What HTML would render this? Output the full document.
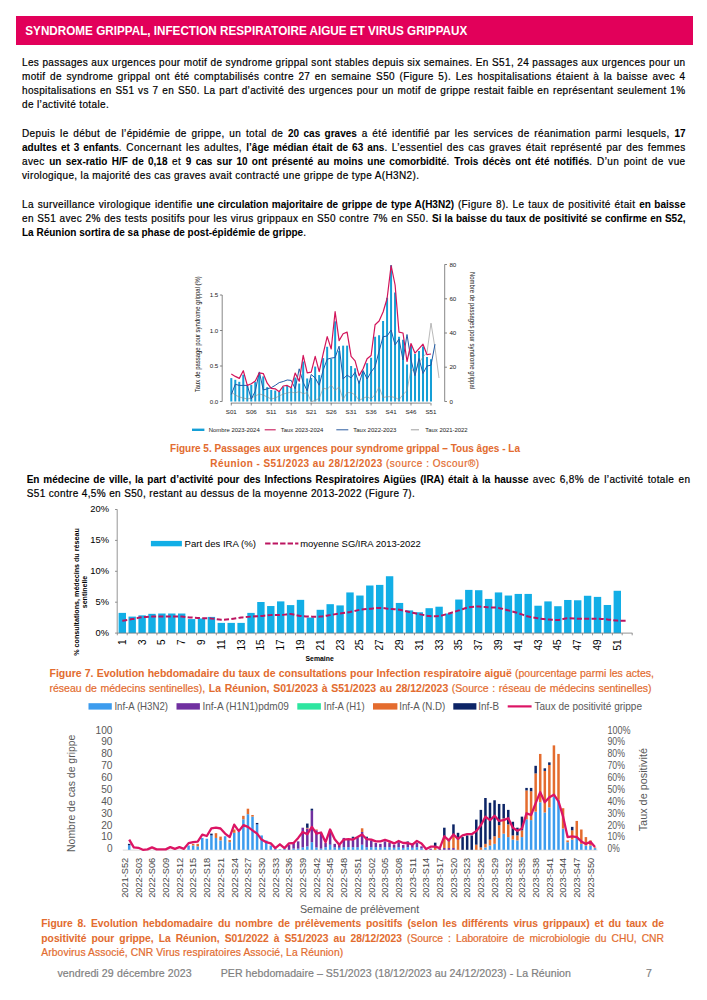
<!DOCTYPE html><html><head><meta charset="utf-8"><style>html,body{margin:0;padding:0;background:#fff;}body{width:707px;height:1000px;position:relative;overflow:hidden;font-family:"Liberation Sans",sans-serif;color:#000;} b{font-weight:bold;letter-spacing:0} div{-webkit-text-stroke:0.2px currentColor} div b{-webkit-text-stroke:0.05px currentColor}</style></head><body>
<div style="position:absolute;left:16.3px;top:16.3px;width:676.3px;height:28.8px;background:#E2005A"></div>
<svg style="position:absolute;left:0;top:0" width="707" height="60"><text x="25.3" y="35.1" font-family='"Liberation Sans", sans-serif' font-weight="bold" font-size="12.3" fill="#fff" textLength="442" lengthAdjust="spacingAndGlyphs">SYNDROME GRIPPAL, INFECTION RESPIRATOIRE AIGUE ET VIRUS GRIPPAUX</text></svg>
<div style="position:absolute;left:22px;top:57.63px;width:663.5px;font-size:10px;line-height:10px;height:10px;letter-spacing:0.36px;text-align:justify;text-align-last:justify;white-space:nowrap;color:#000;font-weight:normal;">Les passages aux urgences pour motif de syndrome grippal sont stables depuis six semaines. En S51, 24 passages aux urgences pour un</div>
<div style="position:absolute;left:22px;top:71.63px;width:663.5px;font-size:10px;line-height:10px;height:10px;letter-spacing:0.36px;text-align:justify;text-align-last:justify;white-space:nowrap;color:#000;font-weight:normal;">motif de syndrome grippal ont été comptabilisés contre 27 en semaine S50 (Figure 5). Les hospitalisations étaient à la baisse avec 4</div>
<div style="position:absolute;left:22px;top:85.63px;width:663.5px;font-size:10px;line-height:10px;height:10px;letter-spacing:0.36px;text-align:justify;text-align-last:justify;white-space:nowrap;color:#000;font-weight:normal;">hospitalisations en S51 vs 7 en S50. La part d’activité des urgences pour un motif de grippe restait faible en représentant seulement 1%</div>
<div style="position:absolute;left:22px;top:99.63px;width:663.5px;font-size:10px;line-height:10px;height:10px;letter-spacing:0.36px;text-align:left;text-align-last:left;white-space:nowrap;color:#000;font-weight:normal;">de l’activité totale.</div>
<div style="position:absolute;left:22px;top:128.63px;width:663.5px;font-size:10px;line-height:10px;height:10px;letter-spacing:0.36px;text-align:justify;text-align-last:justify;white-space:nowrap;color:#000;font-weight:normal;">Depuis le début de l’épidémie de grippe, un total de <b>20 cas graves</b> a été identifié par les services de réanimation parmi lesquels, <b>17</b></div>
<div style="position:absolute;left:22px;top:142.63px;width:663.5px;font-size:10px;line-height:10px;height:10px;letter-spacing:0.36px;text-align:justify;text-align-last:justify;white-space:nowrap;color:#000;font-weight:normal;"><b>adultes et 3 enfants</b>. Concernant les adultes, <b>l’âge médian était de 63 ans</b>. L’essentiel des cas graves était représenté par des femmes</div>
<div style="position:absolute;left:22px;top:156.63px;width:663.5px;font-size:10px;line-height:10px;height:10px;letter-spacing:0.36px;text-align:justify;text-align-last:justify;white-space:nowrap;color:#000;font-weight:normal;">avec <b>un sex-ratio H/F de 0,18</b> et <b>9 cas sur 10 ont présenté au moins une comorbidité</b>. <b>Trois décès ont été notifiés</b>. D’un point de vue</div>
<div style="position:absolute;left:22px;top:170.63px;width:663.5px;font-size:10px;line-height:10px;height:10px;letter-spacing:0.36px;text-align:left;text-align-last:left;white-space:nowrap;color:#000;font-weight:normal;">virologique, la majorité des cas graves avait contracté une grippe de type A(H3N2).</div>
<div style="position:absolute;left:22px;top:200.13px;width:663.5px;font-size:10px;line-height:10px;height:10px;letter-spacing:0.36px;text-align:justify;text-align-last:justify;white-space:nowrap;color:#000;font-weight:normal;">La surveillance virologique identifie <b>une circulation majoritaire de grippe de type A(H3N2)</b> (Figure 8). Le taux de positivité était <b>en baisse</b></div>
<div style="position:absolute;left:22px;top:214.13px;width:663.5px;font-size:10px;line-height:10px;height:10px;letter-spacing:0.36px;text-align:justify;text-align-last:justify;white-space:nowrap;color:#000;font-weight:normal;">en S51 avec 2% des tests positifs pour les virus grippaux en S50 contre 7% en S50. <b>Si la baisse du taux de positivité se confirme en S52,</b></div>
<div style="position:absolute;left:22px;top:228.13px;width:663.5px;font-size:10px;line-height:10px;height:10px;letter-spacing:0.36px;text-align:left;text-align-last:left;white-space:nowrap;color:#000;font-weight:normal;"><b>La Réunion sortira de sa phase de post-épidémie de grippe</b>.</div>
<div style="position:absolute;left:120px;top:443.84px;width:450px;font-size:10px;line-height:10px;height:10px;letter-spacing:0px;text-align:center;text-align-last:center;white-space:nowrap;color:#E36C2F;font-weight:normal;margin-left:0"><b>Figure 5. Passages aux urgences pour syndrome grippal – Tous âges - La</b></div>
<div style="position:absolute;left:120px;top:458.74px;width:450px;font-size:10px;line-height:10px;height:10px;letter-spacing:0.5px;text-align:center;text-align-last:center;white-space:nowrap;color:#E36C2F;font-weight:normal;"><b style="letter-spacing:0.42px">Réunion - S51/2023 au 28/12/2023</b> (source : Oscour®)</div>
<div style="position:absolute;left:26.7px;top:474.54px;width:663.7px;font-size:10px;line-height:10px;height:10px;letter-spacing:0.36px;text-align:justify;text-align-last:justify;white-space:nowrap;color:#000;font-weight:normal;"><b>En médecine de ville, la part d’activité pour des Infections Respiratoires Aigües (IRA) était à la hausse</b> avec 6,8% de l’activité totale en</div>
<div style="position:absolute;left:26.7px;top:489.44px;width:663.5px;font-size:10px;line-height:10px;height:10px;letter-spacing:0.36px;text-align:left;text-align-last:left;white-space:nowrap;color:#000;font-weight:normal;">S51 contre 4,5% en S50, restant au dessus de la moyenne 2013-2022 (Figure 7).</div>
<div style="position:absolute;left:49.5px;top:668.11px;width:604.5px;font-size:10.5px;line-height:10.5px;height:10.5px;letter-spacing:0px;text-align:justify;text-align-last:justify;white-space:nowrap;color:#E36C2F;font-weight:normal;"><b>Figure 7. Evolution hebdomadaire du taux de consultations pour Infection respiratoire aiguë</b> (pourcentage parmi les actes,</div>
<div style="position:absolute;left:49.5px;top:682.81px;width:602px;font-size:10.5px;line-height:10.5px;height:10.5px;letter-spacing:0px;text-align:justify;text-align-last:justify;white-space:nowrap;color:#E36C2F;font-weight:normal;">réseau de médecins sentinelles), <b>La Réunion, S01/2023 à S51/2023 au 28/12/2023</b> (Source : réseau de médecins sentinelles)</div>
<div style="position:absolute;left:41.3px;top:918.68px;width:622.7px;font-size:10.3px;line-height:10.3px;height:10.3px;letter-spacing:0px;text-align:justify;text-align-last:justify;white-space:nowrap;color:#E36C2F;font-weight:normal;"><b>Figure 8. Evolution hebdomadaire du nombre de prélèvements positifs (selon les différents virus grippaux) et du taux de</b></div>
<div style="position:absolute;left:41.3px;top:933.78px;width:622.7px;font-size:10.3px;line-height:10.3px;height:10.3px;letter-spacing:0px;text-align:justify;text-align-last:justify;white-space:nowrap;color:#E36C2F;font-weight:normal;"><b>positivité pour grippe, La Réunion, S01/2022 à S51/2023 au 28/12/2023</b> (Source : Laboratoire de microbiologie du CHU, CNR</div>
<div style="position:absolute;left:41.3px;top:947.78px;width:400px;font-size:10.3px;line-height:10.3px;height:10.3px;letter-spacing:0.1px;text-align:left;text-align-last:left;white-space:nowrap;color:#E36C2F;font-weight:normal;">Arbovirus Associé, CNR Virus respiratoires Associé, La Réunion)</div>
<div style="position:absolute;left:57.4px;top:968.33px;width:300px;font-size:10.6px;line-height:10.6px;height:10.6px;letter-spacing:0.1px;text-align:left;text-align-last:left;white-space:nowrap;color:#7F7F7F;font-weight:normal;">vendredi 29 décembre 2023</div>
<div style="position:absolute;left:220.7px;top:968.33px;width:400px;font-size:10.6px;line-height:10.6px;height:10.6px;letter-spacing:0.05px;text-align:left;text-align-last:left;white-space:nowrap;color:#7F7F7F;font-weight:normal;">PER hebdomadaire – S51/2023 (18/12/2023 au 24/12/2023) - La Réunion</div>
<div style="position:absolute;left:646px;top:968.33px;width:20px;font-size:10.6px;line-height:10.6px;height:10.6px;letter-spacing:0px;text-align:left;text-align-last:left;white-space:nowrap;color:#7F7F7F;font-weight:normal;">7</div>
<svg style="position:absolute;left:0;top:0" width="707" height="1000" viewBox="0 0 707 1000">
<rect x="230.30" y="378.09" width="2.0" height="23.41" fill="#159FD6"/>
<rect x="234.29" y="379.79" width="2.0" height="21.71" fill="#159FD6"/>
<rect x="238.29" y="381.82" width="2.0" height="19.68" fill="#159FD6"/>
<rect x="242.28" y="374.70" width="2.0" height="26.80" fill="#159FD6"/>
<rect x="246.28" y="385.45" width="2.0" height="16.05" fill="#159FD6"/>
<rect x="250.27" y="384.88" width="2.0" height="16.62" fill="#159FD6"/>
<rect x="254.26" y="382.05" width="2.0" height="19.45" fill="#159FD6"/>
<rect x="258.26" y="373.00" width="2.0" height="28.50" fill="#159FD6"/>
<rect x="262.25" y="376.39" width="2.0" height="25.11" fill="#159FD6"/>
<rect x="266.25" y="387.14" width="2.0" height="14.36" fill="#159FD6"/>
<rect x="270.24" y="389.97" width="2.0" height="11.53" fill="#159FD6"/>
<rect x="274.23" y="390.54" width="2.0" height="10.96" fill="#159FD6"/>
<rect x="278.23" y="391.67" width="2.0" height="9.83" fill="#159FD6"/>
<rect x="282.22" y="386.58" width="2.0" height="14.92" fill="#159FD6"/>
<rect x="286.22" y="386.01" width="2.0" height="15.49" fill="#159FD6"/>
<rect x="290.21" y="387.71" width="2.0" height="13.79" fill="#159FD6"/>
<rect x="294.20" y="377.52" width="2.0" height="23.98" fill="#159FD6"/>
<rect x="298.20" y="383.55" width="2.0" height="17.95" fill="#159FD6"/>
<rect x="302.19" y="361.49" width="2.0" height="40.01" fill="#159FD6"/>
<rect x="306.19" y="378.46" width="2.0" height="23.04" fill="#159FD6"/>
<rect x="310.18" y="377.89" width="2.0" height="23.61" fill="#159FD6"/>
<rect x="314.17" y="366.58" width="2.0" height="34.92" fill="#159FD6"/>
<rect x="318.17" y="375.06" width="2.0" height="26.44" fill="#159FD6"/>
<rect x="322.16" y="358.09" width="2.0" height="43.41" fill="#159FD6"/>
<rect x="326.16" y="346.78" width="2.0" height="54.72" fill="#159FD6"/>
<rect x="330.15" y="358.66" width="2.0" height="42.84" fill="#159FD6"/>
<rect x="334.14" y="321.32" width="2.0" height="80.18" fill="#159FD6"/>
<rect x="338.14" y="350.74" width="2.0" height="50.76" fill="#159FD6"/>
<rect x="342.13" y="345.64" width="2.0" height="55.86" fill="#159FD6"/>
<rect x="346.13" y="345.64" width="2.0" height="55.86" fill="#159FD6"/>
<rect x="350.12" y="366.01" width="2.0" height="35.49" fill="#159FD6"/>
<rect x="354.11" y="368.27" width="2.0" height="33.23" fill="#159FD6"/>
<rect x="358.11" y="380.72" width="2.0" height="20.78" fill="#159FD6"/>
<rect x="362.10" y="371.67" width="2.0" height="29.83" fill="#159FD6"/>
<rect x="366.10" y="363.18" width="2.0" height="38.32" fill="#159FD6"/>
<rect x="370.09" y="357.74" width="2.0" height="43.76" fill="#159FD6"/>
<rect x="374.08" y="336.75" width="2.0" height="64.75" fill="#159FD6"/>
<rect x="378.08" y="335.25" width="2.0" height="66.25" fill="#159FD6"/>
<rect x="382.07" y="321.00" width="2.0" height="80.50" fill="#159FD6"/>
<rect x="386.07" y="297.75" width="2.0" height="103.75" fill="#159FD6"/>
<rect x="390.06" y="265.20" width="2.0" height="136.30" fill="#159FD6"/>
<rect x="394.05" y="292.50" width="2.0" height="109.00" fill="#159FD6"/>
<rect x="398.05" y="336.75" width="2.0" height="64.75" fill="#159FD6"/>
<rect x="402.04" y="339.75" width="2.0" height="61.75" fill="#159FD6"/>
<rect x="406.04" y="364.49" width="2.0" height="37.01" fill="#159FD6"/>
<rect x="410.03" y="345.00" width="2.0" height="56.50" fill="#159FD6"/>
<rect x="414.02" y="354.00" width="2.0" height="47.50" fill="#159FD6"/>
<rect x="418.02" y="351.00" width="2.0" height="50.50" fill="#159FD6"/>
<rect x="422.01" y="346.50" width="2.0" height="55.00" fill="#159FD6"/>
<rect x="426.01" y="356.99" width="2.0" height="44.51" fill="#159FD6"/>
<rect x="430.00" y="359.24" width="2.0" height="42.26" fill="#159FD6"/>
<polyline points="231.3,392.0 235.3,395.0 239.3,397.0 243.3,398.0 247.3,399.0 251.3,398.0 255.3,396.0 259.3,394.0 263.3,395.0 267.2,397.0 271.2,399.0 275.2,398.0 279.2,396.0 283.2,394.0 287.2,393.0 291.2,392.0 295.2,393.0 299.2,391.5 303.2,393.7 307.2,392.6 311.2,401.7 315.2,400.5 319.2,398.3 323.2,388.1 327.2,389.2 331.2,385.2 335.1,390.3 339.1,386.9 343.1,399.4 347.1,392.6 351.1,392.6 355.1,394.9 359.1,400.5 363.1,398.3 367.1,396.6 371.1,399.0 375.1,394.5 379.1,387.0 383.1,397.5 387.1,396.7 391.1,396.7 395.1,397.5 399.0,399.7 403.0,394.5 407.0,390.7 411.0,369.0 415.0,372.0 419.0,363.0 423.0,357.0 427.0,352.5 431.0,323.2 435.0,348.0 439.0,378.0" fill="none" stroke="#8a8a8a" stroke-width="0.6" stroke-linejoin="round" />
<polyline points="231.3,394.5 235.3,384.3 239.3,385.4 243.3,385.4 247.3,385.4 251.3,399.0 255.3,391.1 259.3,371.9 263.3,390.0 267.2,388.8 271.2,387.7 275.2,385.4 279.2,382.6 283.2,381.5 287.2,380.0 291.2,380.4 295.2,388.8 299.2,368.8 303.2,382.4 307.2,390.9 311.2,374.5 315.2,377.9 319.2,385.2 323.2,370.0 327.2,359.2 331.2,358.1 335.1,357.5 339.1,346.2 343.1,379.0 347.1,375.1 351.1,377.9 355.1,372.2 359.1,383.6 363.1,370.5 367.1,379.0 371.1,372.0 375.1,366.7 379.1,351.0 383.1,336.7 387.1,336.0 391.1,330.0 395.1,345.0 399.0,339.0 403.0,360.0 407.0,334.5 411.0,360.0 415.0,375.7 419.0,358.5 423.0,373.5 427.0,366.0 431.0,365.2 435.0,344.2" fill="none" stroke="#1F5AA6" stroke-width="1.0" stroke-linejoin="round" />
<polyline points="231.3,374.1 235.3,376.4 239.3,378.4 243.3,370.7 247.3,385.4 251.3,383.7 255.3,380.9 259.3,372.8 263.3,373.6 267.2,383.2 271.2,388.3 275.2,388.8 279.2,391.7 283.2,386.0 287.2,385.4 291.2,387.7 295.2,373.0 299.2,381.3 303.2,355.3 307.2,372.8 311.2,372.2 315.2,356.4 319.2,371.7 323.2,353.6 327.2,336.6 331.2,349.0 335.1,311.7 339.1,340.6 343.1,333.8 347.1,332.1 351.1,356.4 355.1,360.9 359.1,375.6 363.1,368.8 367.1,358.7 371.1,355.5 375.1,324.7 379.1,321.0 383.1,312.0 387.1,298.5 391.1,265.5 395.1,285.0 399.0,332.2 403.0,333.0 407.0,361.5 411.0,343.5 415.0,353.2 419.0,348.7 423.0,344.2 427.0,354.7 431.0,354.0" fill="none" stroke="#D2145A" stroke-width="1.2" stroke-linejoin="round" />
<g stroke="#555" stroke-width="0.7" fill="none">
<line x1="222.2" y1="295" x2="222.2" y2="401.5"/>
<line x1="219.9" y1="401.5" x2="222.2" y2="401.5"/>
<line x1="219.9" y1="366.0" x2="222.2" y2="366.0"/>
<line x1="219.9" y1="330.5" x2="222.2" y2="330.5"/>
<line x1="219.9" y1="295.0" x2="222.2" y2="295.0"/>
<line x1="444.7" y1="264.5" x2="444.7" y2="401.5"/>
<line x1="444.7" y1="401.5" x2="447" y2="401.5"/>
<line x1="444.7" y1="367.2" x2="447" y2="367.2"/>
<line x1="444.7" y1="333.0" x2="447" y2="333.0"/>
<line x1="444.7" y1="298.8" x2="447" y2="298.8"/>
<line x1="444.7" y1="264.5" x2="447" y2="264.5"/>
<line x1="230.8" y1="403.1" x2="430.5" y2="403.1"/>
<line x1="231.3" y1="403.1" x2="231.3" y2="405.5"/>
<line x1="251.3" y1="403.1" x2="251.3" y2="405.5"/>
<line x1="271.2" y1="403.1" x2="271.2" y2="405.5"/>
<line x1="291.2" y1="403.1" x2="291.2" y2="405.5"/>
<line x1="311.2" y1="403.1" x2="311.2" y2="405.5"/>
<line x1="331.2" y1="403.1" x2="331.2" y2="405.5"/>
<line x1="351.1" y1="403.1" x2="351.1" y2="405.5"/>
<line x1="371.1" y1="403.1" x2="371.1" y2="405.5"/>
<line x1="391.1" y1="403.1" x2="391.1" y2="405.5"/>
<line x1="411.0" y1="403.1" x2="411.0" y2="405.5"/>
<line x1="431.0" y1="403.1" x2="431.0" y2="405.5"/>
</g>
<g font-family='"Liberation Sans", sans-serif' font-size="6.2" fill="#1a1a1a">
<text x="218.3" y="403.6" text-anchor="end">0.0</text>
<text x="218.3" y="368.1" text-anchor="end">0.5</text>
<text x="218.3" y="332.6" text-anchor="end">1.0</text>
<text x="218.3" y="297.1" text-anchor="end">1.5</text>
<text x="449.4" y="403.6">0</text>
<text x="449.4" y="369.4">20</text>
<text x="449.4" y="335.1">40</text>
<text x="449.4" y="300.9">60</text>
<text x="449.4" y="266.6">80</text>
<text x="231.3" y="413.7" text-anchor="middle">S01</text>
<text x="251.3" y="413.7" text-anchor="middle">S06</text>
<text x="271.2" y="413.7" text-anchor="middle">S11</text>
<text x="291.2" y="413.7" text-anchor="middle">S16</text>
<text x="311.2" y="413.7" text-anchor="middle">S21</text>
<text x="331.2" y="413.7" text-anchor="middle">S26</text>
<text x="351.1" y="413.7" text-anchor="middle">S31</text>
<text x="371.1" y="413.7" text-anchor="middle">S36</text>
<text x="391.1" y="413.7" text-anchor="middle">S41</text>
<text x="411.0" y="413.7" text-anchor="middle">S46</text>
<text x="431.0" y="413.7" text-anchor="middle">S51</text>
<text transform="translate(200.3,334.2) rotate(-90)" text-anchor="middle" textLength="116" lengthAdjust="spacingAndGlyphs" font-size="6.4">Taux de passage pour syndrome grippal (%)</text>
<text transform="translate(469.6,330.5) rotate(90)" text-anchor="middle" textLength="117" lengthAdjust="spacingAndGlyphs" font-size="6.4">Nombre de passages pour syndrome grippal</text>
<text x="208.7" y="431.8" textLength="51" lengthAdjust="spacingAndGlyphs">Nombre 2023-2024</text>
<text x="280.8" y="431.8" textLength="42.5" lengthAdjust="spacingAndGlyphs">Taux 2023-2024</text>
<text x="353.2" y="431.8" textLength="43.2" lengthAdjust="spacingAndGlyphs">Taux 2022-2023</text>
<text x="425.3" y="431.8" textLength="42.3" lengthAdjust="spacingAndGlyphs">Taux 2021-2022</text>
</g>
<line x1="192" y1="429.8" x2="204.4" y2="429.8" stroke="#159FD6" stroke-width="2.4"/>
<line x1="264.7" y1="429.8" x2="275.7" y2="429.8" stroke="#C8185A" stroke-width="1.1"/>
<line x1="336.3" y1="429.8" x2="348.3" y2="429.8" stroke="#2D5DA0" stroke-width="1.0"/>
<line x1="410.9" y1="429.8" x2="419" y2="429.8" stroke="#777" stroke-width="0.7"/>
<rect x="118.60" y="612.89" width="7.4" height="20.21" fill="#12AEE6"/>
<rect x="128.50" y="616.60" width="7.4" height="16.50" fill="#12AEE6"/>
<rect x="138.40" y="615.36" width="7.4" height="17.74" fill="#12AEE6"/>
<rect x="148.30" y="613.82" width="7.4" height="19.28" fill="#12AEE6"/>
<rect x="158.20" y="613.51" width="7.4" height="19.59" fill="#12AEE6"/>
<rect x="168.10" y="613.51" width="7.4" height="19.59" fill="#12AEE6"/>
<rect x="178.00" y="613.51" width="7.4" height="19.59" fill="#12AEE6"/>
<rect x="187.90" y="619.07" width="7.4" height="14.03" fill="#12AEE6"/>
<rect x="197.80" y="618.45" width="7.4" height="14.65" fill="#12AEE6"/>
<rect x="207.70" y="616.91" width="7.4" height="16.19" fill="#12AEE6"/>
<rect x="217.60" y="622.90" width="7.4" height="10.20" fill="#12AEE6"/>
<rect x="227.50" y="622.90" width="7.4" height="10.20" fill="#12AEE6"/>
<rect x="237.40" y="622.90" width="7.4" height="10.20" fill="#12AEE6"/>
<rect x="247.30" y="612.89" width="7.4" height="20.21" fill="#12AEE6"/>
<rect x="257.20" y="602.01" width="7.4" height="31.09" fill="#12AEE6"/>
<rect x="267.10" y="606.03" width="7.4" height="27.07" fill="#12AEE6"/>
<rect x="277.00" y="601.40" width="7.4" height="31.70" fill="#12AEE6"/>
<rect x="286.90" y="605.10" width="7.4" height="28.00" fill="#12AEE6"/>
<rect x="296.80" y="599.85" width="7.4" height="33.25" fill="#12AEE6"/>
<rect x="306.70" y="617.53" width="7.4" height="15.57" fill="#12AEE6"/>
<rect x="316.60" y="609.80" width="7.4" height="23.30" fill="#12AEE6"/>
<rect x="326.50" y="604.18" width="7.4" height="28.92" fill="#12AEE6"/>
<rect x="336.40" y="605.41" width="7.4" height="27.69" fill="#12AEE6"/>
<rect x="346.30" y="592.44" width="7.4" height="40.66" fill="#12AEE6"/>
<rect x="356.20" y="595.53" width="7.4" height="37.57" fill="#12AEE6"/>
<rect x="366.10" y="585.51" width="7.4" height="47.59" fill="#12AEE6"/>
<rect x="376.00" y="584.90" width="7.4" height="48.20" fill="#12AEE6"/>
<rect x="385.90" y="576.24" width="7.4" height="56.86" fill="#12AEE6"/>
<rect x="395.80" y="602.94" width="7.4" height="30.16" fill="#12AEE6"/>
<rect x="405.70" y="610.42" width="7.4" height="22.68" fill="#12AEE6"/>
<rect x="415.60" y="612.27" width="7.4" height="20.83" fill="#12AEE6"/>
<rect x="425.50" y="608.19" width="7.4" height="24.91" fill="#12AEE6"/>
<rect x="435.40" y="606.71" width="7.4" height="26.39" fill="#12AEE6"/>
<rect x="445.30" y="613.51" width="7.4" height="19.59" fill="#12AEE6"/>
<rect x="455.20" y="599.54" width="7.4" height="33.56" fill="#12AEE6"/>
<rect x="465.10" y="589.90" width="7.4" height="43.20" fill="#12AEE6"/>
<rect x="475.00" y="590.21" width="7.4" height="42.89" fill="#12AEE6"/>
<rect x="484.90" y="598.92" width="7.4" height="34.18" fill="#12AEE6"/>
<rect x="494.80" y="592.44" width="7.4" height="40.66" fill="#12AEE6"/>
<rect x="504.70" y="595.53" width="7.4" height="37.57" fill="#12AEE6"/>
<rect x="514.60" y="593.92" width="7.4" height="39.18" fill="#12AEE6"/>
<rect x="524.50" y="593.92" width="7.4" height="39.18" fill="#12AEE6"/>
<rect x="534.40" y="605.72" width="7.4" height="27.38" fill="#12AEE6"/>
<rect x="544.30" y="601.40" width="7.4" height="31.70" fill="#12AEE6"/>
<rect x="554.20" y="606.22" width="7.4" height="26.88" fill="#12AEE6"/>
<rect x="564.10" y="599.98" width="7.4" height="33.12" fill="#12AEE6"/>
<rect x="574.00" y="600.28" width="7.4" height="32.82" fill="#12AEE6"/>
<rect x="583.90" y="595.77" width="7.4" height="37.33" fill="#12AEE6"/>
<rect x="593.80" y="596.89" width="7.4" height="36.21" fill="#12AEE6"/>
<rect x="603.70" y="604.98" width="7.4" height="28.12" fill="#12AEE6"/>
<rect x="613.60" y="590.77" width="7.4" height="42.33" fill="#12AEE6"/>
<path d="M122.3,620.7 C123.9,620.5 128.9,619.7 132.2,619.1 C135.5,618.5 138.8,617.6 142.1,617.2 C145.4,616.8 148.7,616.7 152.0,616.6 C155.3,616.5 158.6,616.6 161.9,616.6 C165.2,616.6 168.5,616.6 171.8,616.6 C175.1,616.6 178.4,616.4 181.7,616.6 C185.0,616.8 188.3,617.3 191.6,617.5 C194.9,617.8 198.2,618.0 201.5,618.1 C204.8,618.3 208.1,618.2 211.4,618.5 C214.7,618.7 218.0,619.6 221.3,619.7 C224.6,619.8 227.9,619.4 231.2,619.1 C234.5,618.7 237.8,617.9 241.1,617.5 C244.4,617.1 247.7,616.9 251.0,616.6 C254.3,616.3 257.6,616.2 260.9,616.0 C264.2,615.7 267.5,615.2 270.8,615.1 C274.1,614.9 277.4,615.2 280.7,615.1 C284.0,614.9 287.3,614.0 290.6,614.1 C293.9,614.3 297.2,615.6 300.5,616.0 C303.8,616.4 307.1,616.5 310.4,616.6 C313.7,616.7 317.0,616.9 320.3,616.6 C323.6,616.3 326.9,615.6 330.2,615.1 C333.5,614.5 336.8,614.0 340.1,613.5 C343.4,613.0 346.7,612.6 350.0,612.0 C353.3,611.3 356.6,610.3 359.9,609.8 C363.2,609.3 366.5,609.1 369.8,608.8 C373.1,608.5 376.4,607.9 379.7,607.9 C383.0,607.9 386.3,608.5 389.6,608.8 C392.9,609.1 396.2,609.3 399.5,609.8 C402.8,610.3 406.1,611.2 409.4,612.0 C412.7,612.7 416.0,613.5 419.3,614.1 C422.6,614.8 425.9,615.7 429.2,616.0 C432.5,616.3 435.8,616.4 439.1,616.0 C442.4,615.6 445.7,614.4 449.0,613.5 C452.3,612.6 455.6,611.4 458.9,610.4 C462.2,609.4 465.5,608.0 468.8,607.3 C472.1,606.7 475.4,606.6 478.7,606.6 C482.0,606.6 485.3,607.1 488.6,607.3 C491.9,607.5 495.2,607.4 498.5,607.9 C501.8,608.4 505.1,609.5 508.4,610.4 C511.7,611.3 515.0,612.1 518.3,613.1 C521.6,614.2 524.9,615.7 528.2,616.5 C531.5,617.4 534.8,617.8 538.1,618.3 C541.4,618.8 544.7,619.2 548.0,619.4 C551.3,619.7 554.6,620.1 557.9,619.9 C561.2,619.8 564.5,618.5 567.8,618.3 C571.1,618.1 574.4,618.6 577.7,618.7 C581.0,618.8 584.3,618.7 587.6,618.7 C590.9,618.7 594.2,618.6 597.5,618.7 C600.8,618.8 604.1,619.1 607.4,619.4 C610.7,619.8 613.9,620.4 617.3,620.6 C620.7,620.8 626.1,620.6 627.9,620.6" fill="none" stroke="#BC1560" stroke-width="2" stroke-dasharray="5 2.3"/>
<g stroke="#7a7a7a" stroke-width="0.8" fill="none">
<line x1="117.2" y1="509.4" x2="117.2" y2="633.1"/>
<line x1="115" y1="633.1" x2="117.2" y2="633.1"/>
<line x1="115" y1="602.2" x2="117.2" y2="602.2"/>
<line x1="115" y1="571.3" x2="117.2" y2="571.3"/>
<line x1="115" y1="540.4" x2="117.2" y2="540.4"/>
<line x1="115" y1="509.5" x2="117.2" y2="509.5"/>
<line x1="117.2" y1="633.1" x2="632.4" y2="633.1"/>
<line x1="117.3" y1="633.1" x2="117.3" y2="635.3"/>
<line x1="127.2" y1="633.1" x2="127.2" y2="635.3"/>
<line x1="137.2" y1="633.1" x2="137.2" y2="635.3"/>
<line x1="147.1" y1="633.1" x2="147.1" y2="635.3"/>
<line x1="156.9" y1="633.1" x2="156.9" y2="635.3"/>
<line x1="166.8" y1="633.1" x2="166.8" y2="635.3"/>
<line x1="176.8" y1="633.1" x2="176.8" y2="635.3"/>
<line x1="186.6" y1="633.1" x2="186.6" y2="635.3"/>
<line x1="196.6" y1="633.1" x2="196.6" y2="635.3"/>
<line x1="206.4" y1="633.1" x2="206.4" y2="635.3"/>
<line x1="216.3" y1="633.1" x2="216.3" y2="635.3"/>
<line x1="226.2" y1="633.1" x2="226.2" y2="635.3"/>
<line x1="236.2" y1="633.1" x2="236.2" y2="635.3"/>
<line x1="246.1" y1="633.1" x2="246.1" y2="635.3"/>
<line x1="255.9" y1="633.1" x2="255.9" y2="635.3"/>
<line x1="265.9" y1="633.1" x2="265.9" y2="635.3"/>
<line x1="275.8" y1="633.1" x2="275.8" y2="635.3"/>
<line x1="285.6" y1="633.1" x2="285.6" y2="635.3"/>
<line x1="295.6" y1="633.1" x2="295.6" y2="635.3"/>
<line x1="305.4" y1="633.1" x2="305.4" y2="635.3"/>
<line x1="315.4" y1="633.1" x2="315.4" y2="635.3"/>
<line x1="325.2" y1="633.1" x2="325.2" y2="635.3"/>
<line x1="335.1" y1="633.1" x2="335.1" y2="635.3"/>
<line x1="345.1" y1="633.1" x2="345.1" y2="635.3"/>
<line x1="355.0" y1="633.1" x2="355.0" y2="635.3"/>
<line x1="364.9" y1="633.1" x2="364.9" y2="635.3"/>
<line x1="374.8" y1="633.1" x2="374.8" y2="635.3"/>
<line x1="384.6" y1="633.1" x2="384.6" y2="635.3"/>
<line x1="394.5" y1="633.1" x2="394.5" y2="635.3"/>
<line x1="404.5" y1="633.1" x2="404.5" y2="635.3"/>
<line x1="414.4" y1="633.1" x2="414.4" y2="635.3"/>
<line x1="424.2" y1="633.1" x2="424.2" y2="635.3"/>
<line x1="434.1" y1="633.1" x2="434.1" y2="635.3"/>
<line x1="444.0" y1="633.1" x2="444.0" y2="635.3"/>
<line x1="454.0" y1="633.1" x2="454.0" y2="635.3"/>
<line x1="463.9" y1="633.1" x2="463.9" y2="635.3"/>
<line x1="473.8" y1="633.1" x2="473.8" y2="635.3"/>
<line x1="483.6" y1="633.1" x2="483.6" y2="635.3"/>
<line x1="493.5" y1="633.1" x2="493.5" y2="635.3"/>
<line x1="503.5" y1="633.1" x2="503.5" y2="635.3"/>
<line x1="513.4" y1="633.1" x2="513.4" y2="635.3"/>
<line x1="523.2" y1="633.1" x2="523.2" y2="635.3"/>
<line x1="533.1" y1="633.1" x2="533.1" y2="635.3"/>
<line x1="543.0" y1="633.1" x2="543.0" y2="635.3"/>
<line x1="553.0" y1="633.1" x2="553.0" y2="635.3"/>
<line x1="562.9" y1="633.1" x2="562.9" y2="635.3"/>
<line x1="572.8" y1="633.1" x2="572.8" y2="635.3"/>
<line x1="582.6" y1="633.1" x2="582.6" y2="635.3"/>
<line x1="592.6" y1="633.1" x2="592.6" y2="635.3"/>
<line x1="602.5" y1="633.1" x2="602.5" y2="635.3"/>
<line x1="612.4" y1="633.1" x2="612.4" y2="635.3"/>
<line x1="622.2" y1="633.1" x2="622.2" y2="635.3"/>
<line x1="632.2" y1="633.1" x2="632.2" y2="635.3"/>
</g>
<g font-family='"Liberation Sans", sans-serif' font-size="10" fill="#000">
<text x="109" y="635.7" text-anchor="end" font-size="8.6" textLength="13.5" lengthAdjust="spacingAndGlyphs">0%</text>
<text x="109" y="604.8" text-anchor="end" font-size="8.6" textLength="13.5" lengthAdjust="spacingAndGlyphs">5%</text>
<text x="109" y="573.9" text-anchor="end" font-size="8.6" textLength="18.8" lengthAdjust="spacingAndGlyphs">10%</text>
<text x="109" y="543.0" text-anchor="end" font-size="8.6" textLength="18.8" lengthAdjust="spacingAndGlyphs">15%</text>
<text x="109" y="512.1" text-anchor="end" font-size="8.6" textLength="18.8" lengthAdjust="spacingAndGlyphs">20%</text>
<text transform="translate(125.7,639.4) rotate(-90)" text-anchor="end">1</text>
<text transform="translate(145.5,639.4) rotate(-90)" text-anchor="end">3</text>
<text transform="translate(165.3,639.4) rotate(-90)" text-anchor="end">5</text>
<text transform="translate(185.1,639.4) rotate(-90)" text-anchor="end">7</text>
<text transform="translate(204.9,639.4) rotate(-90)" text-anchor="end">9</text>
<text transform="translate(224.7,639.4) rotate(-90)" text-anchor="end">11</text>
<text transform="translate(244.5,639.4) rotate(-90)" text-anchor="end">13</text>
<text transform="translate(264.3,639.4) rotate(-90)" text-anchor="end">15</text>
<text transform="translate(284.1,639.4) rotate(-90)" text-anchor="end">17</text>
<text transform="translate(303.9,639.4) rotate(-90)" text-anchor="end">19</text>
<text transform="translate(323.7,639.4) rotate(-90)" text-anchor="end">21</text>
<text transform="translate(343.5,639.4) rotate(-90)" text-anchor="end">23</text>
<text transform="translate(363.3,639.4) rotate(-90)" text-anchor="end">25</text>
<text transform="translate(383.1,639.4) rotate(-90)" text-anchor="end">27</text>
<text transform="translate(402.9,639.4) rotate(-90)" text-anchor="end">29</text>
<text transform="translate(422.7,639.4) rotate(-90)" text-anchor="end">31</text>
<text transform="translate(442.5,639.4) rotate(-90)" text-anchor="end">33</text>
<text transform="translate(462.3,639.4) rotate(-90)" text-anchor="end">35</text>
<text transform="translate(482.1,639.4) rotate(-90)" text-anchor="end">37</text>
<text transform="translate(501.9,639.4) rotate(-90)" text-anchor="end">39</text>
<text transform="translate(521.7,639.4) rotate(-90)" text-anchor="end">41</text>
<text transform="translate(541.5,639.4) rotate(-90)" text-anchor="end">43</text>
<text transform="translate(561.3,639.4) rotate(-90)" text-anchor="end">45</text>
<text transform="translate(581.1,639.4) rotate(-90)" text-anchor="end">47</text>
<text transform="translate(600.9,639.4) rotate(-90)" text-anchor="end">49</text>
<text transform="translate(620.7,639.4) rotate(-90)" text-anchor="end">51</text>
<text x="305.5" y="660.8" font-size="6.8" font-weight="bold" textLength="28.2" lengthAdjust="spacingAndGlyphs">Semaine</text>
<text transform="translate(78.7,592) rotate(-90)" text-anchor="middle" font-size="7" font-weight="bold" textLength="127.5" lengthAdjust="spacingAndGlyphs">% consultations, médecins du réseau</text>
<text transform="translate(87.3,592) rotate(-90)" text-anchor="middle" font-size="7" font-weight="bold" textLength="32.4" lengthAdjust="spacingAndGlyphs">sentinelle</text>
<text x="184.6" y="547" font-size="9.3" textLength="71.3" lengthAdjust="spacingAndGlyphs">Part des IRA (%)</text>
<text x="300.2" y="547" font-size="9.3" textLength="120.6" lengthAdjust="spacingAndGlyphs">moyenne SG/IRA 2013-2022</text>
</g>
<rect x="150.9" y="540.9" width="31" height="5.4" fill="#12AEE6"/>
<line x1="265.1" y1="543.6" x2="298.4" y2="543.6" stroke="#BC1560" stroke-width="2" stroke-dasharray="5.4 2.1"/>
<line x1="122.8" y1="850.0999999999999" x2="597.5" y2="850.0999999999999" stroke="#d0d0d0" stroke-width="0.8"/>
<rect x="127.95" y="845.29" width="2.5" height="4.51" fill="#3C9CEE"/>
<rect x="127.95" y="843.86" width="2.5" height="1.43" fill="#0C2466"/>
<rect x="187.32" y="845.52" width="2.5" height="4.28" fill="#3C9CEE"/>
<rect x="191.89" y="845.52" width="2.5" height="4.28" fill="#3C9CEE"/>
<rect x="191.89" y="843.86" width="2.5" height="1.66" fill="#E46C2E"/>
<rect x="196.45" y="846.35" width="2.5" height="3.45" fill="#3C9CEE"/>
<rect x="196.45" y="843.86" width="2.5" height="2.49" fill="#E46C2E"/>
<rect x="201.02" y="837.92" width="2.5" height="11.88" fill="#3C9CEE"/>
<rect x="205.59" y="838.75" width="2.5" height="11.05" fill="#3C9CEE"/>
<rect x="210.16" y="835.43" width="2.5" height="14.37" fill="#3C9CEE"/>
<rect x="210.16" y="833.64" width="2.5" height="1.78" fill="#0C2466"/>
<rect x="214.72" y="837.92" width="2.5" height="11.88" fill="#3C9CEE"/>
<rect x="214.72" y="833.17" width="2.5" height="4.75" fill="#E46C2E"/>
<rect x="219.29" y="840.41" width="2.5" height="9.39" fill="#3C9CEE"/>
<rect x="219.29" y="836.61" width="2.5" height="3.80" fill="#E46C2E"/>
<rect x="223.86" y="836.26" width="2.5" height="13.54" fill="#3C9CEE"/>
<rect x="228.42" y="842.20" width="2.5" height="7.60" fill="#3C9CEE"/>
<rect x="228.42" y="839.94" width="2.5" height="2.26" fill="#E46C2E"/>
<rect x="232.99" y="832.81" width="2.5" height="16.99" fill="#3C9CEE"/>
<rect x="232.99" y="829.49" width="2.5" height="3.33" fill="#E46C2E"/>
<rect x="237.56" y="831.98" width="2.5" height="17.82" fill="#3C9CEE"/>
<rect x="242.12" y="819.27" width="2.5" height="30.53" fill="#3C9CEE"/>
<rect x="242.12" y="815.82" width="2.5" height="3.45" fill="#E46C2E"/>
<rect x="246.69" y="814.16" width="2.5" height="35.64" fill="#3C9CEE"/>
<rect x="246.69" y="808.70" width="2.5" height="5.46" fill="#E46C2E"/>
<rect x="251.26" y="816.65" width="2.5" height="33.15" fill="#3C9CEE"/>
<rect x="251.26" y="814.99" width="2.5" height="1.66" fill="#E46C2E"/>
<rect x="255.83" y="824.38" width="2.5" height="25.42" fill="#3C9CEE"/>
<rect x="255.83" y="822.95" width="2.5" height="1.43" fill="#0C2466"/>
<rect x="260.39" y="835.43" width="2.5" height="14.37" fill="#3C9CEE"/>
<rect x="264.96" y="840.41" width="2.5" height="9.39" fill="#3C9CEE"/>
<rect x="269.53" y="845.52" width="2.5" height="4.28" fill="#3C9CEE"/>
<rect x="274.09" y="848.61" width="2.5" height="1.19" fill="#3C9CEE"/>
<rect x="278.66" y="849.21" width="2.5" height="0.59" fill="#3C9CEE"/>
<rect x="283.23" y="848.61" width="2.5" height="1.19" fill="#3C9CEE"/>
<rect x="287.79" y="845.05" width="2.5" height="4.75" fill="#7030A0"/>
<rect x="292.36" y="848.61" width="2.5" height="1.19" fill="#3C9CEE"/>
<rect x="292.36" y="843.03" width="2.5" height="5.58" fill="#7030A0"/>
<rect x="296.93" y="848.61" width="2.5" height="1.19" fill="#3C9CEE"/>
<rect x="296.93" y="841.37" width="2.5" height="7.25" fill="#7030A0"/>
<rect x="301.50" y="847.31" width="2.5" height="2.49" fill="#3C9CEE"/>
<rect x="301.50" y="827.70" width="2.5" height="19.60" fill="#7030A0"/>
<rect x="306.06" y="846.35" width="2.5" height="3.45" fill="#3C9CEE"/>
<rect x="306.06" y="828.53" width="2.5" height="17.82" fill="#7030A0"/>
<rect x="306.06" y="827.82" width="2.5" height="0.71" fill="#E46C2E"/>
<rect x="306.06" y="823.55" width="2.5" height="4.28" fill="#0C2466"/>
<rect x="310.63" y="842.20" width="2.5" height="7.60" fill="#3C9CEE"/>
<rect x="310.63" y="810.71" width="2.5" height="31.48" fill="#7030A0"/>
<rect x="310.63" y="808.70" width="2.5" height="2.02" fill="#0C2466"/>
<rect x="315.20" y="847.42" width="2.5" height="2.38" fill="#3C9CEE"/>
<rect x="315.20" y="830.32" width="2.5" height="17.11" fill="#7030A0"/>
<rect x="315.20" y="829.49" width="2.5" height="0.83" fill="#E46C2E"/>
<rect x="319.76" y="848.61" width="2.5" height="1.19" fill="#3C9CEE"/>
<rect x="319.76" y="832.81" width="2.5" height="15.80" fill="#7030A0"/>
<rect x="324.33" y="847.19" width="2.5" height="2.61" fill="#3C9CEE"/>
<rect x="324.33" y="843.03" width="2.5" height="4.16" fill="#7030A0"/>
<rect x="328.90" y="844.69" width="2.5" height="5.11" fill="#3C9CEE"/>
<rect x="328.90" y="830.32" width="2.5" height="14.37" fill="#7030A0"/>
<rect x="333.47" y="847.42" width="2.5" height="2.38" fill="#3C9CEE"/>
<rect x="333.47" y="843.86" width="2.5" height="3.56" fill="#7030A0"/>
<rect x="338.03" y="847.76" width="2.5" height="2.04" fill="#3C9CEE"/>
<rect x="338.03" y="844.69" width="2.5" height="3.07" fill="#7030A0"/>
<rect x="342.60" y="847.19" width="2.5" height="2.61" fill="#3C9CEE"/>
<rect x="342.60" y="837.92" width="2.5" height="9.27" fill="#7030A0"/>
<rect x="347.17" y="847.19" width="2.5" height="2.61" fill="#3C9CEE"/>
<rect x="347.17" y="839.58" width="2.5" height="7.60" fill="#7030A0"/>
<rect x="351.73" y="847.19" width="2.5" height="2.61" fill="#3C9CEE"/>
<rect x="351.73" y="837.92" width="2.5" height="9.27" fill="#7030A0"/>
<rect x="351.73" y="836.73" width="2.5" height="1.19" fill="#0C2466"/>
<rect x="356.30" y="847.19" width="2.5" height="2.61" fill="#3C9CEE"/>
<rect x="356.30" y="837.92" width="2.5" height="9.27" fill="#7030A0"/>
<rect x="356.30" y="837.09" width="2.5" height="0.83" fill="#E46C2E"/>
<rect x="360.87" y="844.69" width="2.5" height="5.11" fill="#3C9CEE"/>
<rect x="360.87" y="831.98" width="2.5" height="12.71" fill="#7030A0"/>
<rect x="360.87" y="828.30" width="2.5" height="3.68" fill="#E46C2E"/>
<rect x="365.43" y="847.19" width="2.5" height="2.61" fill="#3C9CEE"/>
<rect x="365.43" y="837.92" width="2.5" height="9.27" fill="#7030A0"/>
<rect x="365.43" y="836.73" width="2.5" height="1.19" fill="#0C2466"/>
<rect x="370.00" y="847.19" width="2.5" height="2.61" fill="#3C9CEE"/>
<rect x="370.00" y="840.41" width="2.5" height="6.77" fill="#7030A0"/>
<rect x="374.57" y="847.19" width="2.5" height="2.61" fill="#3C9CEE"/>
<rect x="374.57" y="843.03" width="2.5" height="4.16" fill="#7030A0"/>
<rect x="379.13" y="847.42" width="2.5" height="2.38" fill="#3C9CEE"/>
<rect x="379.13" y="843.86" width="2.5" height="3.56" fill="#7030A0"/>
<rect x="383.70" y="847.19" width="2.5" height="2.61" fill="#3C9CEE"/>
<rect x="383.70" y="841.37" width="2.5" height="5.82" fill="#7030A0"/>
<rect x="388.27" y="847.19" width="2.5" height="2.61" fill="#3C9CEE"/>
<rect x="388.27" y="843.03" width="2.5" height="4.16" fill="#7030A0"/>
<rect x="388.27" y="842.20" width="2.5" height="0.83" fill="#E46C2E"/>
<rect x="392.84" y="847.76" width="2.5" height="2.04" fill="#3C9CEE"/>
<rect x="392.84" y="844.69" width="2.5" height="3.07" fill="#7030A0"/>
<rect x="397.40" y="847.19" width="2.5" height="2.61" fill="#3C9CEE"/>
<rect x="397.40" y="842.20" width="2.5" height="4.99" fill="#7030A0"/>
<rect x="401.97" y="847.90" width="2.5" height="1.90" fill="#3C9CEE"/>
<rect x="401.97" y="845.05" width="2.5" height="2.85" fill="#7030A0"/>
<rect x="406.54" y="847.19" width="2.5" height="2.61" fill="#3C9CEE"/>
<rect x="406.54" y="842.20" width="2.5" height="4.99" fill="#7030A0"/>
<rect x="406.54" y="841.48" width="2.5" height="0.71" fill="#0C2466"/>
<rect x="411.10" y="847.76" width="2.5" height="2.04" fill="#3C9CEE"/>
<rect x="411.10" y="844.69" width="2.5" height="3.07" fill="#7030A0"/>
<rect x="415.67" y="847.19" width="2.5" height="2.61" fill="#3C9CEE"/>
<rect x="415.67" y="843.03" width="2.5" height="4.16" fill="#7030A0"/>
<rect x="420.24" y="848.42" width="2.5" height="1.38" fill="#3C9CEE"/>
<rect x="420.24" y="846.35" width="2.5" height="2.07" fill="#7030A0"/>
<rect x="429.37" y="848.61" width="2.5" height="1.19" fill="#7030A0"/>
<rect x="433.94" y="847.42" width="2.5" height="2.38" fill="#E46C2E"/>
<rect x="433.94" y="842.67" width="2.5" height="4.75" fill="#0C2466"/>
<rect x="438.51" y="848.61" width="2.5" height="1.19" fill="#7030A0"/>
<rect x="443.07" y="848.02" width="2.5" height="1.78" fill="#7030A0"/>
<rect x="443.07" y="837.92" width="2.5" height="10.10" fill="#E46C2E"/>
<rect x="443.07" y="827.70" width="2.5" height="10.22" fill="#0C2466"/>
<rect x="447.64" y="848.02" width="2.5" height="1.78" fill="#7030A0"/>
<rect x="447.64" y="841.37" width="2.5" height="6.65" fill="#E46C2E"/>
<rect x="447.64" y="839.58" width="2.5" height="1.78" fill="#0C2466"/>
<rect x="452.21" y="848.02" width="2.5" height="1.78" fill="#7030A0"/>
<rect x="452.21" y="836.26" width="2.5" height="11.76" fill="#E46C2E"/>
<rect x="452.21" y="824.38" width="2.5" height="11.88" fill="#0C2466"/>
<rect x="456.77" y="839.58" width="2.5" height="10.22" fill="#E46C2E"/>
<rect x="456.77" y="832.81" width="2.5" height="6.77" fill="#0C2466"/>
<rect x="461.34" y="837.09" width="2.5" height="12.71" fill="#0C2466"/>
<rect x="465.91" y="835.43" width="2.5" height="14.37" fill="#0C2466"/>
<rect x="470.48" y="835.43" width="2.5" height="14.37" fill="#0C2466"/>
<rect x="475.04" y="844.69" width="2.5" height="5.11" fill="#E46C2E"/>
<rect x="475.04" y="819.62" width="2.5" height="25.07" fill="#0C2466"/>
<rect x="479.61" y="847.42" width="2.5" height="2.38" fill="#E46C2E"/>
<rect x="479.61" y="809.88" width="2.5" height="37.54" fill="#0C2466"/>
<rect x="484.18" y="847.42" width="2.5" height="2.38" fill="#3C9CEE"/>
<rect x="484.18" y="843.86" width="2.5" height="3.56" fill="#E46C2E"/>
<rect x="484.18" y="798.00" width="2.5" height="45.86" fill="#0C2466"/>
<rect x="488.74" y="845.52" width="2.5" height="4.28" fill="#3C9CEE"/>
<rect x="488.74" y="839.58" width="2.5" height="5.94" fill="#E46C2E"/>
<rect x="488.74" y="802.76" width="2.5" height="36.83" fill="#0C2466"/>
<rect x="493.31" y="843.86" width="2.5" height="5.94" fill="#3C9CEE"/>
<rect x="493.31" y="836.26" width="2.5" height="7.60" fill="#E46C2E"/>
<rect x="493.31" y="800.26" width="2.5" height="36.00" fill="#0C2466"/>
<rect x="497.88" y="837.92" width="2.5" height="11.88" fill="#3C9CEE"/>
<rect x="497.88" y="825.21" width="2.5" height="12.71" fill="#E46C2E"/>
<rect x="497.88" y="803.94" width="2.5" height="21.27" fill="#0C2466"/>
<rect x="502.44" y="833.64" width="2.5" height="16.16" fill="#3C9CEE"/>
<rect x="502.44" y="818.44" width="2.5" height="15.21" fill="#E46C2E"/>
<rect x="502.44" y="803.94" width="2.5" height="14.49" fill="#0C2466"/>
<rect x="507.01" y="837.09" width="2.5" height="12.71" fill="#3C9CEE"/>
<rect x="507.01" y="824.38" width="2.5" height="12.71" fill="#E46C2E"/>
<rect x="507.01" y="809.88" width="2.5" height="14.49" fill="#0C2466"/>
<rect x="511.58" y="839.58" width="2.5" height="10.22" fill="#3C9CEE"/>
<rect x="511.58" y="835.43" width="2.5" height="4.16" fill="#E46C2E"/>
<rect x="511.58" y="821.76" width="2.5" height="13.66" fill="#0C2466"/>
<rect x="516.14" y="840.41" width="2.5" height="9.39" fill="#3C9CEE"/>
<rect x="516.14" y="835.43" width="2.5" height="4.99" fill="#E46C2E"/>
<rect x="516.14" y="827.70" width="2.5" height="7.72" fill="#0C2466"/>
<rect x="520.71" y="837.09" width="2.5" height="12.71" fill="#3C9CEE"/>
<rect x="520.71" y="830.32" width="2.5" height="6.77" fill="#E46C2E"/>
<rect x="520.71" y="816.65" width="2.5" height="13.66" fill="#0C2466"/>
<rect x="525.28" y="819.27" width="2.5" height="30.53" fill="#3C9CEE"/>
<rect x="525.28" y="790.40" width="2.5" height="28.87" fill="#E46C2E"/>
<rect x="525.28" y="787.91" width="2.5" height="2.49" fill="#0C2466"/>
<rect x="529.85" y="820.10" width="2.5" height="29.70" fill="#3C9CEE"/>
<rect x="529.85" y="791.23" width="2.5" height="28.87" fill="#E46C2E"/>
<rect x="529.85" y="787.91" width="2.5" height="3.33" fill="#0C2466"/>
<rect x="534.41" y="811.67" width="2.5" height="38.13" fill="#3C9CEE"/>
<rect x="534.41" y="773.41" width="2.5" height="38.25" fill="#E46C2E"/>
<rect x="534.41" y="765.81" width="2.5" height="7.60" fill="#0C2466"/>
<rect x="538.98" y="802.28" width="2.5" height="47.52" fill="#3C9CEE"/>
<rect x="538.98" y="753.93" width="2.5" height="48.35" fill="#E46C2E"/>
<rect x="543.55" y="812.50" width="2.5" height="37.30" fill="#3C9CEE"/>
<rect x="543.55" y="770.92" width="2.5" height="41.58" fill="#E46C2E"/>
<rect x="543.55" y="768.30" width="2.5" height="2.61" fill="#0C2466"/>
<rect x="548.11" y="807.39" width="2.5" height="42.41" fill="#3C9CEE"/>
<rect x="548.11" y="764.98" width="2.5" height="42.41" fill="#E46C2E"/>
<rect x="548.11" y="762.36" width="2.5" height="2.61" fill="#0C2466"/>
<rect x="552.68" y="796.34" width="2.5" height="53.46" fill="#3C9CEE"/>
<rect x="552.68" y="745.37" width="2.5" height="50.97" fill="#E46C2E"/>
<rect x="557.25" y="799.79" width="2.5" height="50.01" fill="#3C9CEE"/>
<rect x="557.25" y="753.93" width="2.5" height="45.86" fill="#E46C2E"/>
<rect x="561.82" y="828.53" width="2.5" height="21.27" fill="#3C9CEE"/>
<rect x="561.82" y="808.22" width="2.5" height="20.31" fill="#E46C2E"/>
<rect x="566.38" y="842.20" width="2.5" height="7.60" fill="#3C9CEE"/>
<rect x="566.38" y="840.41" width="2.5" height="1.78" fill="#E46C2E"/>
<rect x="570.95" y="839.58" width="2.5" height="10.22" fill="#3C9CEE"/>
<rect x="570.95" y="830.32" width="2.5" height="9.27" fill="#E46C2E"/>
<rect x="570.95" y="826.87" width="2.5" height="3.45" fill="#0C2466"/>
<rect x="575.52" y="837.09" width="2.5" height="12.71" fill="#3C9CEE"/>
<rect x="575.52" y="820.93" width="2.5" height="16.16" fill="#E46C2E"/>
<rect x="580.08" y="843.86" width="2.5" height="5.94" fill="#3C9CEE"/>
<rect x="580.08" y="829.49" width="2.5" height="14.37" fill="#E46C2E"/>
<rect x="584.65" y="845.52" width="2.5" height="4.28" fill="#3C9CEE"/>
<rect x="584.65" y="837.09" width="2.5" height="8.43" fill="#E46C2E"/>
<rect x="589.22" y="845.52" width="2.5" height="4.28" fill="#3C9CEE"/>
<rect x="589.22" y="840.41" width="2.5" height="5.11" fill="#E46C2E"/>
<rect x="593.78" y="848.14" width="2.5" height="1.66" fill="#3C9CEE"/>
<rect x="593.78" y="847.42" width="2.5" height="0.71" fill="#E46C2E"/>
<polyline points="129.2,839.6 133.8,847.4 138.3,847.8 142.9,849.8 147.5,849.4 152.0,847.4 156.6,849.4 161.2,849.4 165.7,849.4 170.3,847.1 174.9,848.8 179.4,847.1 184.0,848.8 188.6,843.1 193.1,842.1 197.7,841.7 202.3,834.7 206.8,836.0 211.4,828.4 216.0,827.7 220.5,828.5 225.1,833.6 229.7,837.1 234.2,824.7 238.8,831.1 243.4,825.2 247.9,826.9 252.5,830.3 257.1,833.6 261.6,839.6 266.2,842.2 270.8,843.4 275.3,848.1 279.9,844.3 284.5,848.1 289.0,843.4 293.6,843.0 298.2,837.9 302.7,832.0 307.3,834.2 311.9,826.9 316.4,833.6 321.0,832.5 325.6,842.2 330.1,829.5 334.7,839.2 339.3,844.7 343.8,839.6 348.4,839.2 353.0,839.6 357.6,837.1 362.1,834.5 366.7,839.2 371.3,839.6 375.8,841.4 380.4,841.4 385.0,839.9 389.5,841.4 394.1,843.4 398.7,841.0 403.2,843.0 407.8,843.0 412.4,844.7 416.9,841.0 421.5,843.4 426.1,849.0 430.6,846.7 435.2,846.7 439.8,848.1 444.3,836.3 448.9,840.4 453.5,834.5 458.0,838.8 462.6,835.4 467.2,834.2 471.7,834.2 476.3,831.1 480.9,825.2 485.4,816.7 490.0,820.1 494.6,815.8 499.1,820.9 503.7,820.1 508.3,818.3 512.8,827.8 517.4,830.8 522.0,828.5 526.5,813.3 531.1,815.0 535.7,803.1 540.2,792.1 544.8,802.3 549.4,797.2 553.9,794.7 558.5,801.4 563.1,816.7 567.6,837.1 572.2,836.3 576.8,837.1 581.3,841.4 585.9,843.9 590.5,841.8 595.0,846.9" fill="none" stroke="#DC1464" stroke-width="2.3" stroke-linejoin="round"/>
<g font-family='"Liberation Sans", sans-serif' font-size="10.2" fill="#595959">
<text x="112.5" y="852.3" text-anchor="end" textLength="5.6" lengthAdjust="spacingAndGlyphs">0</text>
<text x="607.5" y="852.3" textLength="12.3" lengthAdjust="spacingAndGlyphs">0%</text>
<text x="112.5" y="840.4" text-anchor="end" textLength="11.3" lengthAdjust="spacingAndGlyphs">10</text>
<text x="607.5" y="840.4" textLength="17.5" lengthAdjust="spacingAndGlyphs">10%</text>
<text x="112.5" y="828.5" text-anchor="end" textLength="11.3" lengthAdjust="spacingAndGlyphs">20</text>
<text x="607.5" y="828.5" textLength="17.5" lengthAdjust="spacingAndGlyphs">20%</text>
<text x="112.5" y="816.7" text-anchor="end" textLength="11.3" lengthAdjust="spacingAndGlyphs">30</text>
<text x="607.5" y="816.7" textLength="17.5" lengthAdjust="spacingAndGlyphs">30%</text>
<text x="112.5" y="804.8" text-anchor="end" textLength="11.3" lengthAdjust="spacingAndGlyphs">40</text>
<text x="607.5" y="804.8" textLength="17.5" lengthAdjust="spacingAndGlyphs">40%</text>
<text x="112.5" y="792.9" text-anchor="end" textLength="11.3" lengthAdjust="spacingAndGlyphs">50</text>
<text x="607.5" y="792.9" textLength="17.5" lengthAdjust="spacingAndGlyphs">50%</text>
<text x="112.5" y="781.0" text-anchor="end" textLength="11.3" lengthAdjust="spacingAndGlyphs">60</text>
<text x="607.5" y="781.0" textLength="17.5" lengthAdjust="spacingAndGlyphs">60%</text>
<text x="112.5" y="769.1" text-anchor="end" textLength="11.3" lengthAdjust="spacingAndGlyphs">70</text>
<text x="607.5" y="769.1" textLength="17.5" lengthAdjust="spacingAndGlyphs">70%</text>
<text x="112.5" y="757.3" text-anchor="end" textLength="11.3" lengthAdjust="spacingAndGlyphs">80</text>
<text x="607.5" y="757.3" textLength="17.5" lengthAdjust="spacingAndGlyphs">80%</text>
<text x="112.5" y="745.4" text-anchor="end" textLength="11.3" lengthAdjust="spacingAndGlyphs">90</text>
<text x="607.5" y="745.4" textLength="17.5" lengthAdjust="spacingAndGlyphs">90%</text>
<text x="112.5" y="733.5" text-anchor="end" textLength="17.0" lengthAdjust="spacingAndGlyphs">100</text>
<text x="607.5" y="733.5" textLength="23.1" lengthAdjust="spacingAndGlyphs">100%</text>
<text transform="translate(75,793.3) rotate(-90)" text-anchor="middle" font-size="11" textLength="117.4" lengthAdjust="spacingAndGlyphs">Nombre de cas de grippe</text>
<text transform="translate(646.5,789.7) rotate(-90)" text-anchor="middle" font-size="11" textLength="83.3" lengthAdjust="spacingAndGlyphs">Taux de positivité</text>
<text x="299.9" y="912.8" font-size="10.5" textLength="119.3" lengthAdjust="spacingAndGlyphs">Semaine de prélèvement</text>
<text transform="translate(127.9,857.8) rotate(-90)"  text-anchor="end" font-size="9.4" fill="#474747" textLength="40" lengthAdjust="spacingAndGlyphs">2021-S52</text>
<text transform="translate(141.6,857.8) rotate(-90)"  text-anchor="end" font-size="9.4" fill="#474747" textLength="40" lengthAdjust="spacingAndGlyphs">2022-S03</text>
<text transform="translate(155.3,857.8) rotate(-90)"  text-anchor="end" font-size="9.4" fill="#474747" textLength="40" lengthAdjust="spacingAndGlyphs">2022-S06</text>
<text transform="translate(169.0,857.8) rotate(-90)"  text-anchor="end" font-size="9.4" fill="#474747" textLength="40" lengthAdjust="spacingAndGlyphs">2022-S09</text>
<text transform="translate(182.7,857.8) rotate(-90)"  text-anchor="end" font-size="9.4" fill="#474747" textLength="40" lengthAdjust="spacingAndGlyphs">2022-S12</text>
<text transform="translate(196.4,857.8) rotate(-90)"  text-anchor="end" font-size="9.4" fill="#474747" textLength="40" lengthAdjust="spacingAndGlyphs">2022-S15</text>
<text transform="translate(210.1,857.8) rotate(-90)"  text-anchor="end" font-size="9.4" fill="#474747" textLength="40" lengthAdjust="spacingAndGlyphs">2022-S18</text>
<text transform="translate(223.8,857.8) rotate(-90)"  text-anchor="end" font-size="9.4" fill="#474747" textLength="40" lengthAdjust="spacingAndGlyphs">2022-S21</text>
<text transform="translate(237.5,857.8) rotate(-90)"  text-anchor="end" font-size="9.4" fill="#474747" textLength="40" lengthAdjust="spacingAndGlyphs">2022-S24</text>
<text transform="translate(251.2,857.8) rotate(-90)"  text-anchor="end" font-size="9.4" fill="#474747" textLength="40" lengthAdjust="spacingAndGlyphs">2022-S27</text>
<text transform="translate(264.9,857.8) rotate(-90)"  text-anchor="end" font-size="9.4" fill="#474747" textLength="40" lengthAdjust="spacingAndGlyphs">2022-S30</text>
<text transform="translate(278.6,857.8) rotate(-90)"  text-anchor="end" font-size="9.4" fill="#474747" textLength="40" lengthAdjust="spacingAndGlyphs">2022-S33</text>
<text transform="translate(292.3,857.8) rotate(-90)"  text-anchor="end" font-size="9.4" fill="#474747" textLength="40" lengthAdjust="spacingAndGlyphs">2022-S36</text>
<text transform="translate(306.0,857.8) rotate(-90)"  text-anchor="end" font-size="9.4" fill="#474747" textLength="40" lengthAdjust="spacingAndGlyphs">2022-S39</text>
<text transform="translate(319.7,857.8) rotate(-90)"  text-anchor="end" font-size="9.4" fill="#474747" textLength="40" lengthAdjust="spacingAndGlyphs">2022-S42</text>
<text transform="translate(333.4,857.8) rotate(-90)"  text-anchor="end" font-size="9.4" fill="#474747" textLength="40" lengthAdjust="spacingAndGlyphs">2022-S45</text>
<text transform="translate(347.1,857.8) rotate(-90)"  text-anchor="end" font-size="9.4" fill="#474747" textLength="40" lengthAdjust="spacingAndGlyphs">2022-S48</text>
<text transform="translate(360.8,857.8) rotate(-90)"  text-anchor="end" font-size="9.4" fill="#474747" textLength="40" lengthAdjust="spacingAndGlyphs">2022-S51</text>
<text transform="translate(374.5,857.8) rotate(-90)"  text-anchor="end" font-size="9.4" fill="#474747" textLength="40" lengthAdjust="spacingAndGlyphs">2023-S02</text>
<text transform="translate(388.2,857.8) rotate(-90)"  text-anchor="end" font-size="9.4" fill="#474747" textLength="40" lengthAdjust="spacingAndGlyphs">2023-S05</text>
<text transform="translate(401.9,857.8) rotate(-90)"  text-anchor="end" font-size="9.4" fill="#474747" textLength="40" lengthAdjust="spacingAndGlyphs">2023-S08</text>
<text transform="translate(415.6,857.8) rotate(-90)"  text-anchor="end" font-size="9.4" fill="#474747" textLength="40" lengthAdjust="spacingAndGlyphs">2023-S11</text>
<text transform="translate(429.3,857.8) rotate(-90)"  text-anchor="end" font-size="9.4" fill="#474747" textLength="40" lengthAdjust="spacingAndGlyphs">2023-S14</text>
<text transform="translate(443.0,857.8) rotate(-90)"  text-anchor="end" font-size="9.4" fill="#474747" textLength="40" lengthAdjust="spacingAndGlyphs">2023-S17</text>
<text transform="translate(456.7,857.8) rotate(-90)"  text-anchor="end" font-size="9.4" fill="#474747" textLength="40" lengthAdjust="spacingAndGlyphs">2023-S20</text>
<text transform="translate(470.4,857.8) rotate(-90)"  text-anchor="end" font-size="9.4" fill="#474747" textLength="40" lengthAdjust="spacingAndGlyphs">2023-S23</text>
<text transform="translate(484.1,857.8) rotate(-90)"  text-anchor="end" font-size="9.4" fill="#474747" textLength="40" lengthAdjust="spacingAndGlyphs">2023-S26</text>
<text transform="translate(497.8,857.8) rotate(-90)"  text-anchor="end" font-size="9.4" fill="#474747" textLength="40" lengthAdjust="spacingAndGlyphs">2023-S29</text>
<text transform="translate(511.5,857.8) rotate(-90)"  text-anchor="end" font-size="9.4" fill="#474747" textLength="40" lengthAdjust="spacingAndGlyphs">2023-S32</text>
<text transform="translate(525.2,857.8) rotate(-90)"  text-anchor="end" font-size="9.4" fill="#474747" textLength="40" lengthAdjust="spacingAndGlyphs">2023-S35</text>
<text transform="translate(538.9,857.8) rotate(-90)"  text-anchor="end" font-size="9.4" fill="#474747" textLength="40" lengthAdjust="spacingAndGlyphs">2023-S38</text>
<text transform="translate(552.6,857.8) rotate(-90)"  text-anchor="end" font-size="9.4" fill="#474747" textLength="40" lengthAdjust="spacingAndGlyphs">2023-S41</text>
<text transform="translate(566.3,857.8) rotate(-90)"  text-anchor="end" font-size="9.4" fill="#474747" textLength="40" lengthAdjust="spacingAndGlyphs">2023-S44</text>
<text transform="translate(580.0,857.8) rotate(-90)"  text-anchor="end" font-size="9.4" fill="#474747" textLength="40" lengthAdjust="spacingAndGlyphs">2023-S47</text>
<text transform="translate(593.7,857.8) rotate(-90)"  text-anchor="end" font-size="9.4" fill="#474747" textLength="40" lengthAdjust="spacingAndGlyphs">2023-S50</text>
<text x="114.4" y="709.5" font-size="10.2" textLength="53.6" lengthAdjust="spacingAndGlyphs">Inf-A (H3N2)</text>
<text x="202.4" y="709.5" font-size="10.2" textLength="86.5" lengthAdjust="spacingAndGlyphs">Inf-A  (H1N1)pdm09</text>
<text x="323.8" y="709.5" font-size="10.2" textLength="40.8" lengthAdjust="spacingAndGlyphs">Inf-A (H1)</text>
<text x="399.2" y="709.5" font-size="10.2" textLength="46" lengthAdjust="spacingAndGlyphs">Inf-A (N.D)</text>
<text x="478.3" y="709.5" font-size="10.2" textLength="20.9" lengthAdjust="spacingAndGlyphs">Inf-B</text>
<text x="534.5" y="709.5" font-size="10.2" textLength="107.5" lengthAdjust="spacingAndGlyphs">Taux de positivité grippe</text>
</g>
<rect x="88.5" y="703.2" width="23.3" height="6.4" fill="#3C9CEE"/>
<rect x="176.5" y="703.2" width="23.4" height="6.4" fill="#7030A0"/>
<rect x="297.3" y="703.2" width="23.6" height="6.4" fill="#2EE6A0"/>
<rect x="373" y="703.2" width="24.4" height="6.4" fill="#E46C2E"/>
<rect x="453.3" y="703.2" width="23.1" height="6.4" fill="#0C2466"/>
<line x1="507.7" y1="706.4" x2="531.6" y2="706.4" stroke="#DC1464" stroke-width="2.2"/>
</svg>
</body></html>
